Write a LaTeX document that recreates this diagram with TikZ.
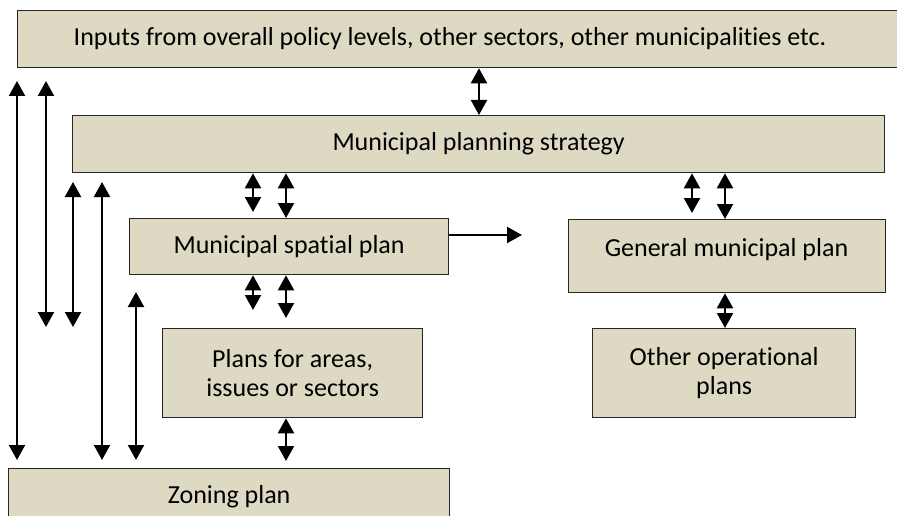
\documentclass[tikz,border=0pt]{standalone}
\usepackage{fontspec}
\setmainfont[Ligatures=NoCommon]{Carlito}
\usetikzlibrary{arrows.meta}
\definecolor{boxfill}{HTML}{DDD9C3}
\definecolor{boxline}{HTML}{262626}
\begin{document}
\begin{tikzpicture}[x=1pt,y=-1pt,
  box/.style={draw=boxline, line width=1.3pt, fill=boxfill, inner sep=0pt, anchor=north west,
              font=\fontsize{26}{29}\selectfont, align=center},
  lbl/.style={inner sep=0pt, font=\fontsize{26}{29}\selectfont, align=center},
  dbl/.style={line width=2.2pt, {Triangle[length=15pt,width=16pt]}-{Triangle[length=15pt,width=16pt]}},
  sgl/.style={line width=2.2pt, -{Triangle[length=15pt,width=16pt]}}]
\useasboundingbox (0,0) rectangle (897,516);
\begin{scope}
\clip (0,0) rectangle (897,516);
% boxes
\node[box, minimum width=890pt, minimum height=57pt] (top) at (17,10) {};
\node[lbl] (toptxt) at (450,38.5) {Inputs from overall policy levels, other sectors, other municipalities etc.};
\node[box, minimum width=812pt, minimum height=57pt] (strat) at (72,115) {Municipal planning strategy};
\node[box, minimum width=319pt, minimum height=56pt] (spat) at (129,218) {Municipal spatial plan};
\node[box, minimum width=317pt, minimum height=73pt] (gen) at (568,219) {};
\node[lbl] (gentxt) at (726.5,250) {General municipal plan};
\node[box, minimum width=263pt, minimum height=89pt] (oth) at (592,328) {Other operational\\plans};
\node[box, minimum width=260pt, minimum height=89pt] (pla) at (162,328) {Plans for areas,\\issues or sectors};
\node[box, minimum width=441pt, minimum height=57pt] (zon) at (8,468) {Zoning plan};
% columns
\coordinate (ca) at (17,0);
\coordinate (cb) at (46,0);
\coordinate (cc) at (73,0);
\coordinate (cd) at (102,0);
\coordinate (ce) at (136,0);
\coordinate (cf) at (253,0);
\coordinate (cg) at (286,0);
\coordinate (ch) at (479,0);
\coordinate (ci) at (692,0);
\coordinate (cj) at (725,0);
% free ends
\coordinate (a1) at (17,81);
\coordinate (b1) at (46,81);
\coordinate (b2) at (46,327);
\coordinate (c1) at (73,182);
\coordinate (c2) at (73,327);
\coordinate (d1) at (102,182);
\coordinate (e1) at (136,292);
\coordinate (sp) at (522,235);
% connectors
\draw[dbl] (a1) -- ([yshift=8pt]zon.north -| ca);
\draw[dbl] (b1) -- (b2);
\draw[dbl] (c1) -- (c2);
\draw[dbl] (d1) -- ([yshift=8pt]zon.north -| cd);
\draw[dbl] (e1) -- ([yshift=8pt]zon.north -| ce);
\draw[dbl] (top.south -| ch) -- (strat.north -| ch);
\draw[dbl] (strat.south -| cf) -- ([yshift=6pt]spat.north -| cf);
\draw[dbl] (strat.south -| cg) -- (spat.north -| cg);
\draw[dbl] (strat.south -| ci) -- ([yshift=6pt]gen.north -| ci);
\draw[dbl] (strat.south -| cj) -- (gen.north -| cj);
\draw[dbl] (spat.south -| cf) -- ([yshift=18pt]pla.north -| cf);
\draw[dbl] (spat.south -| cg) -- ([yshift=10pt]pla.north -| cg);
\draw[dbl] (pla.south -| cg) -- ([yshift=7pt]zon.north -| cg);
\draw[dbl] (gen.south -| cj) -- (oth.north -| cj);
\draw[sgl] (spat.east |- sp) -- (sp);
\end{scope}
\end{tikzpicture}
\end{document}
